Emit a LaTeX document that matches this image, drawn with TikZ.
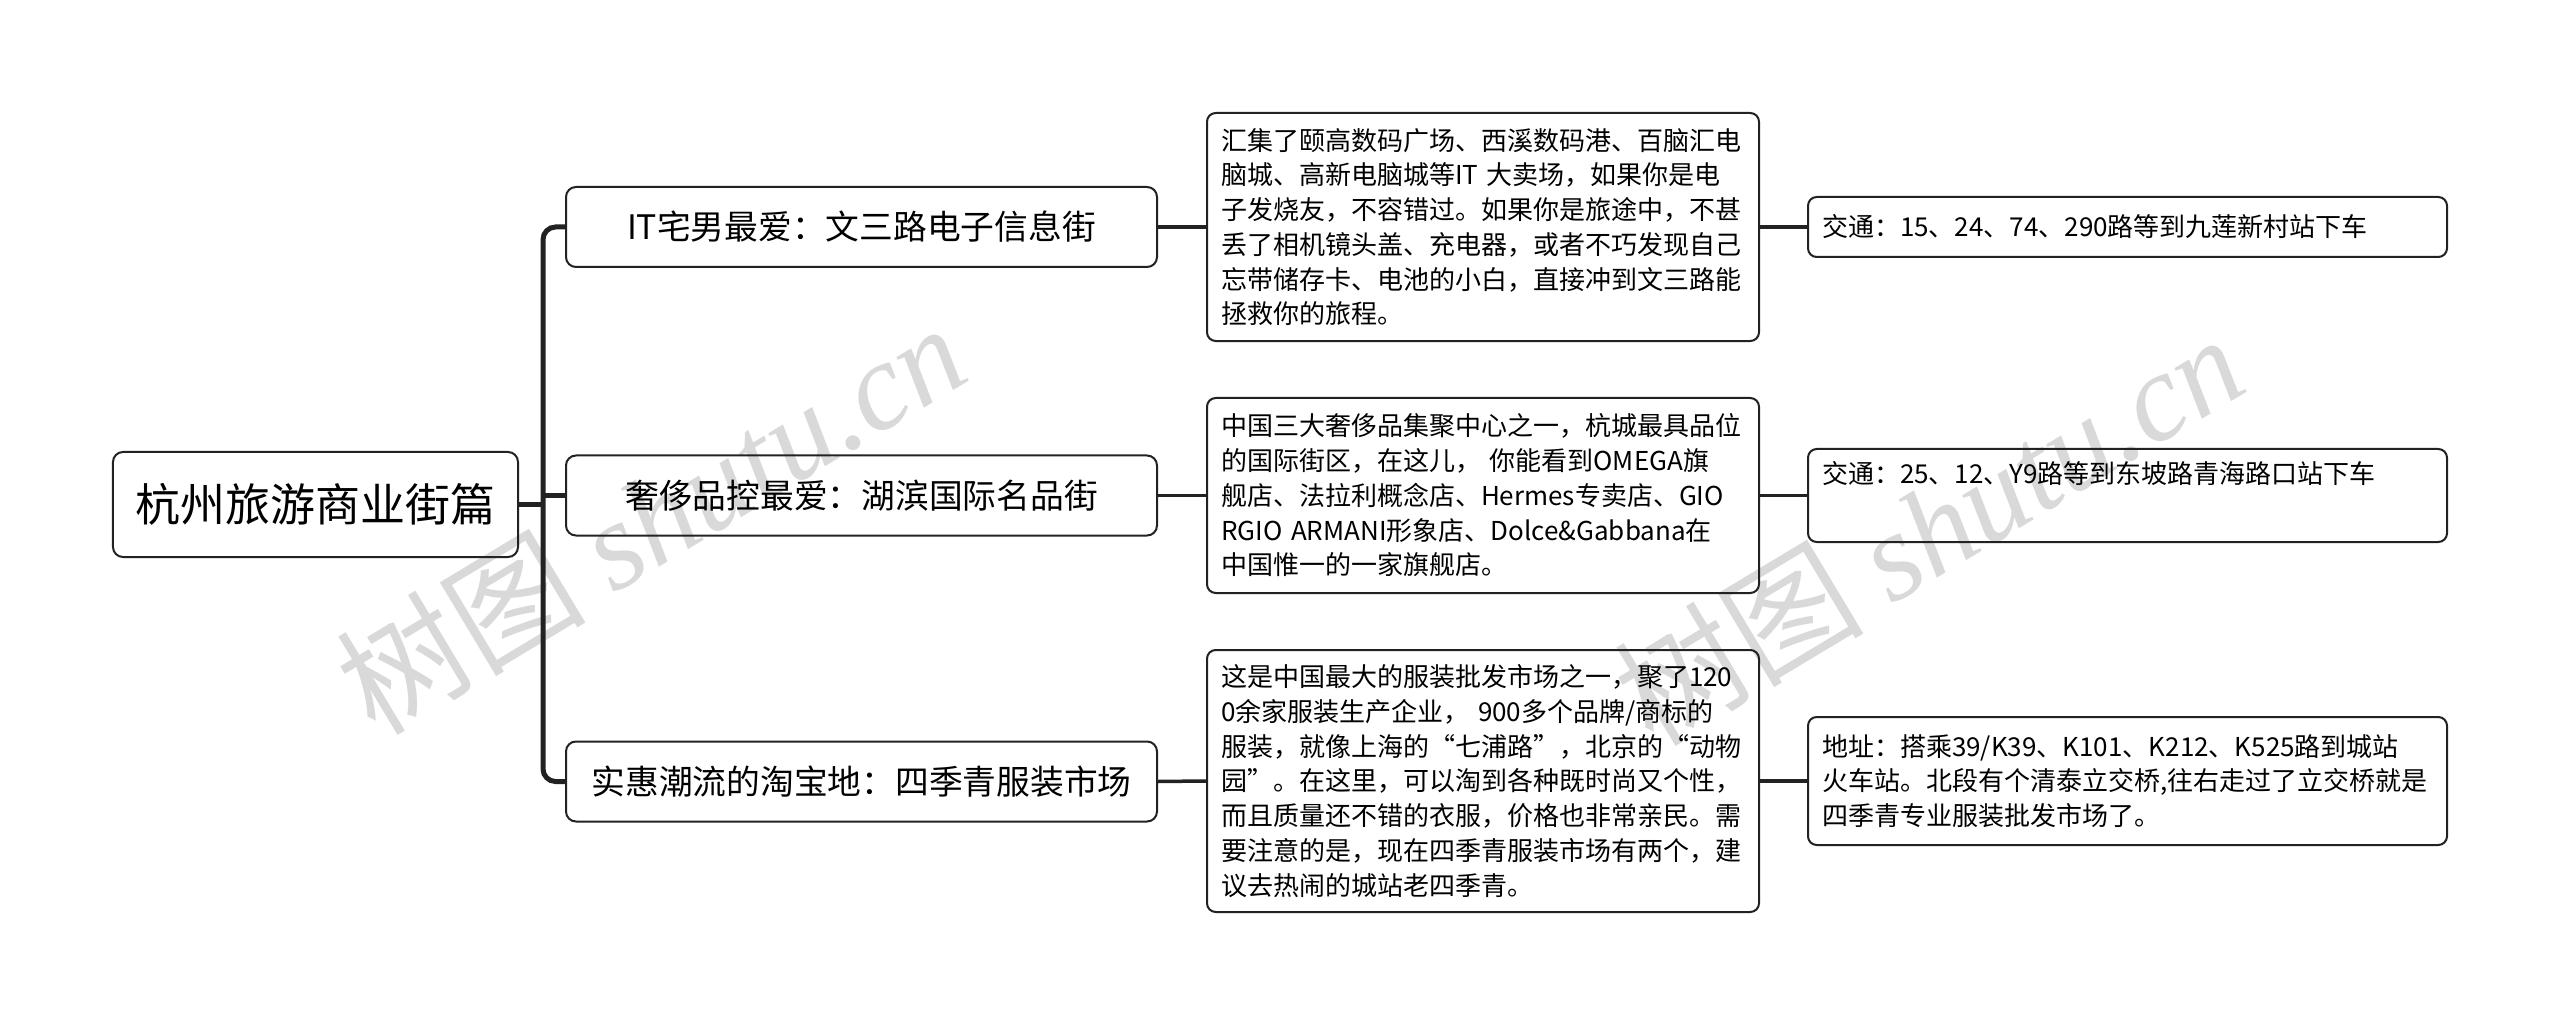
\documentclass[tikz,border=0pt]{standalone}
\usepackage{fontspec}
\setmainfont{Noto Sans CJK SC}
\newfontfamily\wmlatin{Liberation Serif}
\definecolor{lc}{HTML}{222222}
\definecolor{wmgray}{HTML}{D9D9D9}
\begin{document}
\hyphenpenalty=10000 \exhyphenpenalty=10000
\begin{tikzpicture}[x=0.4pt,y=-0.4pt,
  box/.style={draw=lc, line width=0.8pt, rounded corners=4pt, inner sep=0pt, text=black},
  rootbox/.style={box, minimum width=162pt, minimum height=42pt, font=\fontsize{18pt}{22pt}\selectfont},
  topic/.style={box, minimum width=236.4pt, minimum height=32pt, font=\fontsize{13.5pt}{16pt}\selectfont},
  desc/.style={box, rounded corners=3.5pt, text width=209.6pt, inner xsep=5.6pt, inner ysep=0pt,
    align=left, font=\fontsize{10.4pt}{13.9pt}\selectfont},
  info/.style={desc, text width=244.4pt},
  trunk/.style={draw=lc, line width=2pt, rounded corners=5pt},
  link/.style={draw=lc, line width=1.4pt},
  wm/.style={text=wmgray, rotate=31, inner sep=0pt, font=\fontsize{50pt}{50pt}\selectfont}
]
\path[fill=white] (0,0) rectangle (2560,1025);
\useasboundingbox (0,0) rectangle (2560,1025);

% watermarks
\node[wm] (wm1) at (650,517) {树图 {\wmlatin\itshape shutu.cn}};
\node[wm] (wm2) at (1928,528) {树图 {\wmlatin\itshape shutu.cn}};

% root
\node[rootbox] (root) at (315.5,504.5) {杭州旅游商业街篇};

% topics
\node[topic] (b1) at (861.5,227) {IT宅男最爱：文三路电子信息街};
\node[topic] (b2) at (861.5,495.5) {奢侈品控最爱：湖滨国际名品街};
\node[topic] (b3) at (861.5,781.5) {实惠潮流的淘宝地：四季青服装市场};

% descriptions
\node[desc, minimum height=91.2pt] (d1) at (1483,227) {汇集了颐高数码广场、西溪数码港、百脑汇电\\
脑城、高新电脑城等IT~大卖场，如果你是电\\
子发烧友，不容错过。如果你是旅途中，不甚\\
丢了相机镜头盖、充电器，或者不巧发现自己\\
忘带储存卡、电池的小白，直接冲到文三路能\\
拯救你的旅程。};
\node[desc, minimum height=78pt] (d2) at (1483,495.5) {中国三大奢侈品集聚中心之一，杭城最具品位\\
的国际街区，在这儿，~你能看到OMEGA旗\\
舰店、法拉利概念店、Hermes专卖店、GIO\\
RGIO~ARMANI形象店、Dolce\&Gabbana在\\
中国惟一的一家旗舰店。};
\node[desc, minimum height=104.8pt] (d3) at (1483,781) {这是中国最大的服装批发市场之一，聚了120\\
0余家服装生产企业，~900多个品牌/商标的\\
服装，就像上海的“七浦路”，北京的“动物\\
园”。在这里，可以淘到各种既时尚又个性，\\
而且质量还不错的衣服，价格也非常亲民。需\\
要注意的是，现在四季青服装市场有两个，建\\
议去热闹的城站老四季青。};

% info boxes
\node[info, minimum height=24pt] (r1) at (2127.5,227) {交通：15、24、74、290路等到九莲新村站下车};
\node[info, minimum height=37.2pt] (r2) at (2127.5,495.5) {交通：25、12、Y9路等到东坡路青海路口站下车\\\strut};
\node[info, minimum height=51.2pt] (r3) at (2127.5,781) {地址：搭乘39/K39、K101、K212、K525路到城站\\
火车站。北段有个清泰立交桥,往右走过了立交桥就是\\
四季青专业服装批发市场了。};

% connectors
\coordinate (jn) at (543,504);
\draw[trunk, rounded corners=0pt] (root.east) -- (root.east -| jn);
\draw[trunk] (b1.west) -- (b1.west -| jn) -- (b3.west -| jn) -- (b3.west);
\draw[trunk, rounded corners=0pt] (b2.west) -- (b2.west -| jn);

\draw[link] (b1.east) -- (d1.west);
\draw[link] (b2.east) -- (d2.west);
\draw[link] (b3.east) -- (d3.west);
\draw[link] (d1.east) -- (r1.west);
\draw[link] (d2.east) -- (r2.west);
\draw[link] (d3.east) -- (r3.west);
\end{tikzpicture}
\end{document}
